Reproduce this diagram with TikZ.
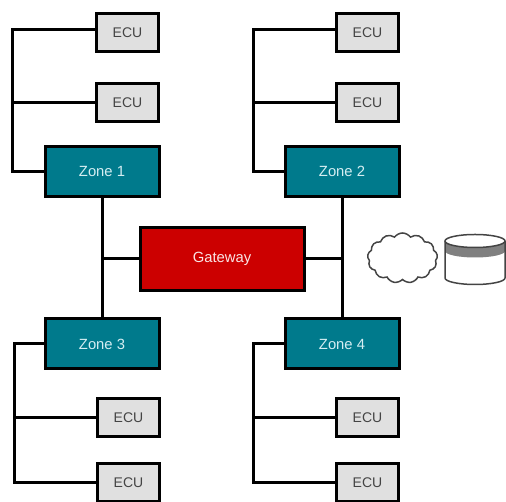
\documentclass[tikz,border=0pt]{standalone}
\usepackage{fontspec}
\setmainfont{Liberation Sans}
\usetikzlibrary{shapes.symbols}
\definecolor{zoneteal}{HTML}{007A8C}
\definecolor{gatewayred}{HTML}{CC0000}
\definecolor{ecugray}{HTML}{E0E0E0}
\definecolor{labeldark}{HTML}{444444}
\definecolor{zonelabel}{HTML}{D5EEF2}

\begin{document}
\begin{tikzpicture}[x=1pt, y=1pt, line width=3pt,
	ecu node/.style={rectangle, draw, fill=ecugray, text=labeldark, minimum width=62pt, minimum height=38pt, font=\fontsize{14}{16}\selectfont},
	zone node/.style={rectangle, draw, fill=zoneteal, text=zonelabel, minimum width=114pt, minimum height=50pt, font=\fontsize{14.8}{16}\selectfont},
	gateway node/.style={rectangle, draw, fill=gatewayred, text=white!90!gatewayred, minimum width=164pt, minimum height=63pt, font=\fontsize{14.8}{16}\selectfont}]
	\useasboundingbox (0,0) rectangle (506,502);
	\clip (0,0) rectangle (506,502);

	\node[zone node] (Z1) at (102,330.5) {Zone 1};
	\node[zone node] (Z2) [right of=Z1, node distance=240pt] {Zone 2};
	\node[zone node] (Z3) [below of=Z1, node distance=172.5pt] {Zone 3};
	\node[zone node] (Z4) [right of=Z3, node distance=240pt] {Zone 4};
	\node[gateway node] (G) at (222,243) {Gateway};

	\node[ecu node] (E1) [above of=Z1, node distance=138.5pt, xshift=25.5pt] {ECU};
	\node[ecu node] (E2) [above of=Z1, node distance=68.5pt, xshift=25.5pt] {ECU};
	\node[ecu node] (E3) [above of=Z2, node distance=138.5pt, xshift=25.5pt] {ECU};
	\node[ecu node] (E4) [above of=Z2, node distance=68.5pt, xshift=25.5pt] {ECU};
	\node[ecu node] (E5) [below of=Z3, node distance=73.5pt, xshift=26.5pt] {ECU};
	\node[ecu node] (E6) [below of=Z3, node distance=139pt, xshift=26.5pt] {ECU};
	\node[ecu node] (E7) [below of=Z4, node distance=73.5pt, xshift=25.5pt] {ECU};
	\node[ecu node] (E8) [below of=Z4, node distance=139pt, xshift=25.5pt] {ECU};

	\coordinate[left of=Z1, node distance=90pt] (R1);
	\coordinate[left of=Z2, node distance=89pt] (R2);
	\coordinate[left of=Z3, node distance=88pt] (R3);
	\coordinate[left of=Z4, node distance=89pt] (R4);

	% zone links
	\draw (Z1.south) -- (Z3.north);
	\draw (Z2.south) -- (Z4.north);
	\draw (G.west) -- (G.west -| Z1.south);
	\draw (G.east) -- (G.east -| Z2.south);

	% ecu links
	\draw ([yshift=3pt]E1.west) -| (R1) -- (Z1.west);
	\draw (E2.west) -- (E2.west -| R1);
	\draw ([yshift=3pt]E3.west) -| (R2) -- (Z2.west);
	\draw (E4.west) -- (E4.west -| R2);
	\draw (E6.west) -| (R3) -- (Z3.west);
	\draw (E5.west) -- (E5.west -| R3);
	\draw (E8.west) -| (R4) -- (Z4.west);
	\draw (E7.west) -- (E7.west -| R4);

	% cloud and storage
	\node[cloud, draw=labeldark, line width=1.5pt, fill=white, cloud puffs=13, cloud puff arc=110, aspect=1.4, inner sep=0pt, minimum width=70pt, minimum height=50pt] (C) at (402.5,244) {};
	\begin{scope}[line width=1.5pt]
		\coordinate (D) at (475,261);
		\fill[gray] (D) ++(-30,0) arc[start angle=180, end angle=360, x radius=30, y radius=6.5] -- ++(0,-10) arc[start angle=360, end angle=180, x radius=30, y radius=6.5] -- cycle;
		\draw[labeldark] (D) ellipse[x radius=30, y radius=6.5];
		\draw[labeldark] (D) ++(-30,0) -- ++(0,-37) arc[start angle=180, end angle=360, x radius=30, y radius=6.5] -- ++(0,37);
	\end{scope}
\end{tikzpicture}
\end{document}
